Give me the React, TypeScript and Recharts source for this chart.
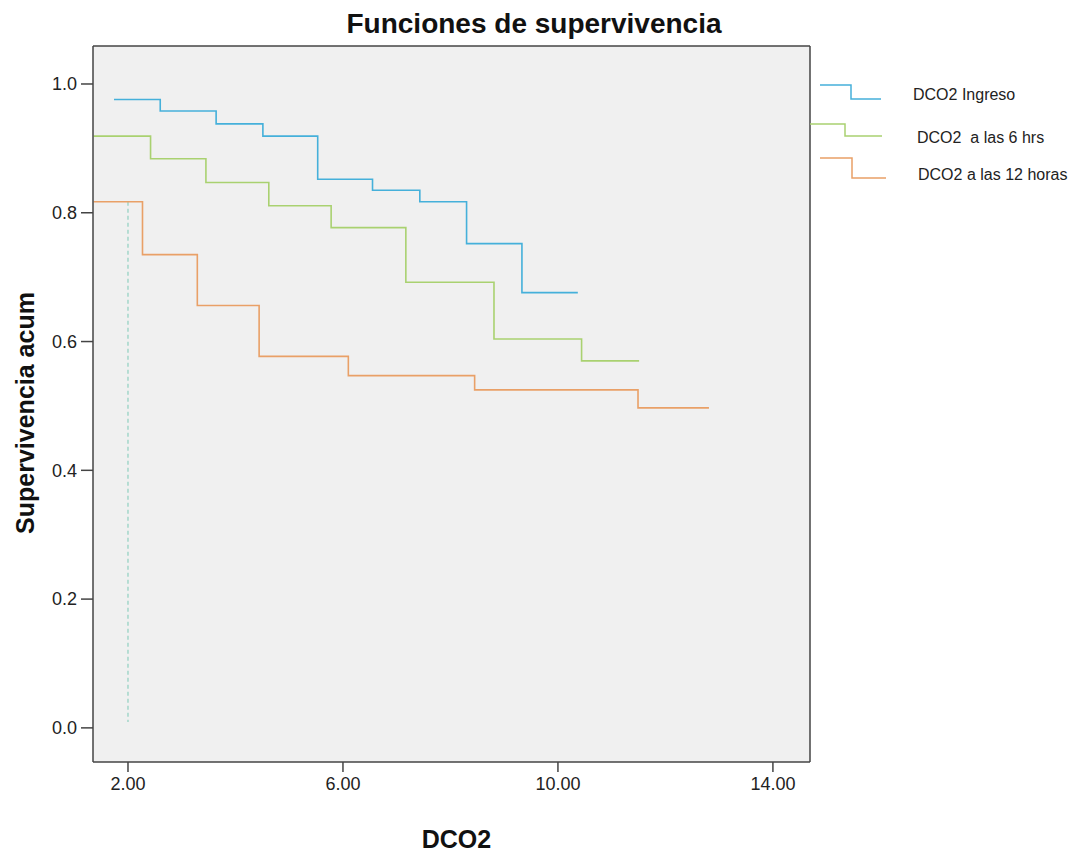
import { Line, LineChart, XAxis, YAxis, CartesianGrid, Legend, ReferenceLine } from "recharts"

// Kaplan-Meier steps (x = DCO2, y = cumulative survival)
const ingresoX = [1.74, 2.6, 3.64, 4.51, 5.53, 6.55, 7.43, 8.3, 9.33, 10.37]
const ingresoY = [0.976, 0.958, 0.938, 0.919, 0.852, 0.835, 0.817, 0.752, 0.676, 0.676]

const seisX = [1.36, 2.42, 3.45, 4.62, 5.78, 7.17, 8.81, 10.44, 11.51]
const seisY = [0.919, 0.884, 0.847, 0.811, 0.777, 0.692, 0.604, 0.57, 0.57]

const doceX = [1.36, 2.27, 3.29, 4.44, 6.1, 8.45, 11.49, 12.81]
const doceY = [0.817, 0.735, 0.656, 0.577, 0.547, 0.525, 0.497, 0.497]

// censored / reference dashed mark at DCO2 = 2
const dashX = [2, 2]
const dashY = [0.817, 0.009]

const xTicks = [2, 6, 10, 14]
const yTicks = [0, 0.2, 0.4, 0.6, 0.8, 1.0]

const xDomain = [1.349, 14.69]
const yDomain = [-0.053, 1.059]

const series = [
  { name: "DCO2 Ingreso", color: "#45b0da", xs: ingresoX, ys: ingresoY },
  { name: "DCO2  a las 6 hrs", color: "#a9d170", xs: seisX, ys: seisY },
  { name: "DCO2 a las 12 horas", color: "#e9a067", xs: doceX, ys: doceY },
]

const toRows = (xs: number[], ys: number[]) => xs.map((x, i) => ({ x, y: ys[i] }))

const legendIcons = [
  { d: "M 10 15 H 41 V 29 H 71", tx: 103, ty: 30 },
  { d: "M 0 54 H 35 V 66 H 72", tx: 107, ty: 73 },
  { d: "M 10 88 H 42 V 108 H 76", tx: 108, ty: 110 },
]

const font = "'Liberation Sans', Arial, sans-serif"
const frame = { stroke: "#444", strokeWidth: 1.5 }

function StepLegend() {
  return (
    <svg width={262} height={130}>
      {series.map((s, i) => (
        <g key={s.name}>
          <path d={legendIcons[i].d} fill="none" stroke={s.color} strokeWidth={1.5} />
          <text
            x={legendIcons[i].tx}
            y={legendIcons[i].ty}
            fontSize={16}
            fill="#222"
            fontFamily={font}
            style={{ whiteSpace: "pre" }}
          >
            {s.name}
          </text>
        </g>
      ))}
    </svg>
  )
}

export default function App() {
  return (
    <div style={{ position: "absolute", left: 0, top: 0, width: 1072, height: 852, background: "#fff" }}>
      <div
        style={{
          position: "absolute",
          left: 0,
          width: 1072,
          top: 9,
          textAlign: "center",
          fontFamily: font,
          fontWeight: "bold",
          fontSize: 28,
          lineHeight: "30px",
          color: "#111",
          zIndex: 2,
        }}
      >
        <span style={{ position: "relative", left: -2 }}>Funciones de supervivencia</span>
      </div>
      <LineChart width={1072} height={852} margin={{ top: 46, right: 262, left: 0, bottom: 0 }}>
        <CartesianGrid fill="#f0f0f0" horizontal={false} vertical={false} />
        <XAxis
          type="number"
          dataKey="x"
          domain={xDomain}
          allowDataOverflow
          ticks={xTicks}
          tickFormatter={(v) => v.toFixed(2)}
          height={90}
          tickSize={10}
          tickMargin={5}
          tick={{ fontSize: 18, fill: "#222", fontFamily: font }}
          axisLine={frame}
          tickLine={frame}
          label={{
            value: "DCO2",
            position: "insideBottom",
            offset: 4,
            dx: 5,
            style: { fontSize: 25, fontWeight: "bold", fill: "#111", fontFamily: font },
          }}
        />
        <YAxis
          type="number"
          domain={yDomain}
          allowDataOverflow
          ticks={yTicks}
          tickFormatter={(v) => v.toFixed(1)}
          width={93}
          tickSize={12}
          tickMargin={4}
          tick={{ fontSize: 18, fill: "#222", fontFamily: font }}
          axisLine={frame}
          tickLine={frame}
          label={{
            value: "Supervivencia acum",
            angle: -90,
            position: "insideLeft",
            offset: 25,
            dy: 9,
            style: { textAnchor: "middle", fontSize: 25, fontWeight: "bold", fill: "#111", fontFamily: font },
          }}
        />
        <ReferenceLine x={xDomain[1]} stroke="#444" strokeWidth={1.5} />
        <ReferenceLine y={yDomain[1]} stroke="#444" strokeWidth={1.5} />
        <Legend
          layout="vertical"
          align="center"
          verticalAlign="middle"
          content={() => <StepLegend />}
          wrapperStyle={{ left: 810, top: 70, width: 262, height: 130 }}
        />
        <Line
          data={toRows(dashX, dashY)}
          dataKey="y"
          type="linear"
          stroke="#8fd0c0"
          strokeWidth={1.2}
          strokeDasharray="4 3"
          dot={false}
          legendType="none"
          isAnimationActive={false}
        />
        {series.map((s) => (
          <Line
            key={s.name}
            data={toRows(s.xs, s.ys)}
            dataKey="y"
            name={s.name}
            type="stepAfter"
            stroke={s.color}
            strokeWidth={1.6}
            dot={false}
            isAnimationActive={false}
          />
        ))}
      </LineChart>
    </div>
  )
}
